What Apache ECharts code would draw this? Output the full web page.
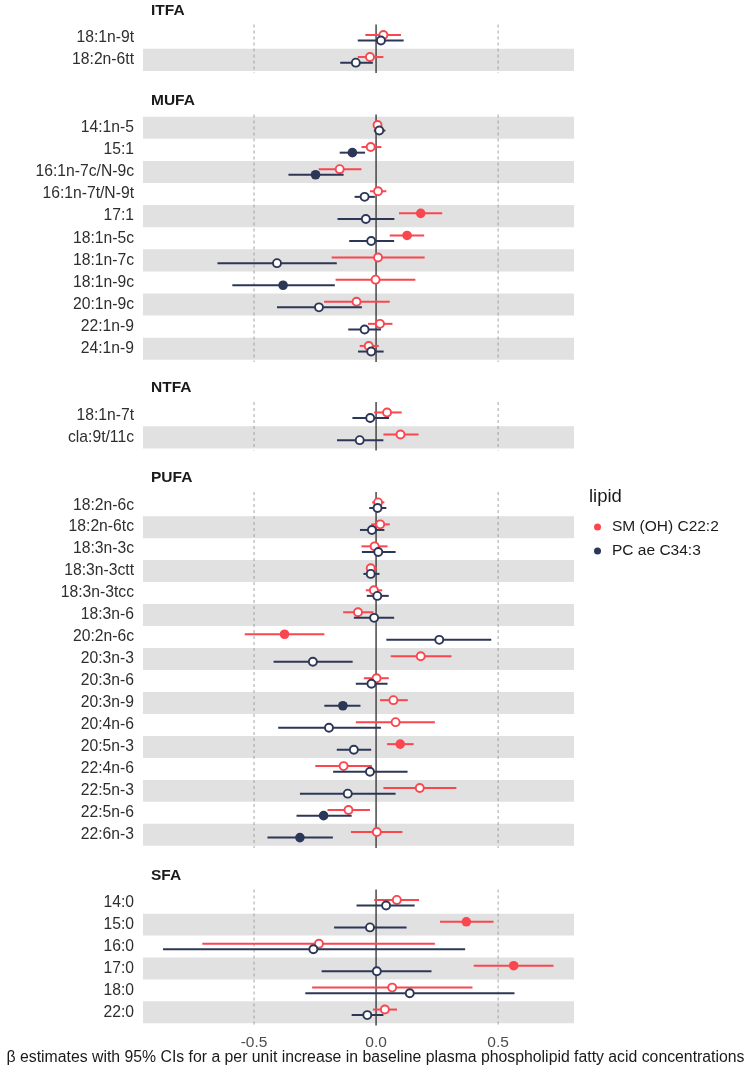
<!DOCTYPE html>
<html><head><meta charset="utf-8">
<script src="https://cdn.jsdelivr.net/npm/echarts@6/dist/echarts.min.js"></script>
<style>html,body{margin:0;padding:0;background:#fff}#c{width:751px;height:1072px}</style>
</head><body><div id="c"></div>
<script>
// ---------- DATA ----------
const seriesNames = ['SM (OH) C22:2', 'PC ae C34:3'];
const facetNames = ['ITFA', 'MUFA', 'NTFA', 'PUFA', 'SFA'];
const xTicks = [-0.5, 0, 0.5];
const xTitle = 'β estimates with 95% CIs for a per unit increase in baseline plasma phospholipid fatty acid concentrations';
const legendTitle = 'lipid';

// rows listed top to bottom; each value: [estimate, lower CI, upper CI, filled(1)/hollow(0)]
const itfaCats = ['18:1n-9t', '18:2n-6tt'];
const itfaSM = [[0.030, -0.044, 0.102, 0], [-0.025, -0.075, 0.030, 0]];
const itfaPC = [[0.020, -0.075, 0.113, 0], [-0.083, -0.147, -0.013, 0]];

const mufaCats = ['14:1n-5', '15:1', '16:1n-7c/N-9c', '16:1n-7t/N-9t', '17:1', '18:1n-5c', '18:1n-7c', '18:1n-9c', '20:1n-9c', '22:1n-9', '24:1n-9'];
const mufaSM = [[0.006, -0.008, 0.022, 0], [-0.022, -0.060, 0.022, 0], [-0.149, -0.235, -0.060, 0], [0.008, -0.025, 0.042, 0],
  [0.183, 0.094, 0.271, 1], [0.127, 0.056, 0.197, 1], [0.008, -0.182, 0.199, 0], [-0.002, -0.166, 0.161, 0],
  [-0.080, -0.213, 0.056, 0], [0.016, -0.033, 0.067, 0], [-0.030, -0.067, 0.011, 0]];
const mufaPC = [[0.013, -0.009, 0.038, 0], [-0.097, -0.149, -0.045, 1], [-0.248, -0.359, -0.133, 1], [-0.047, -0.088, -0.005, 0],
  [-0.042, -0.158, 0.075, 0], [-0.020, -0.110, 0.074, 0], [-0.406, -0.650, -0.161, 0], [-0.381, -0.589, -0.169, 1],
  [-0.234, -0.406, -0.058, 0], [-0.047, -0.114, 0.020, 0], [-0.020, -0.074, 0.031, 0]];

const ntfaCats = ['18:1n-7t', 'cla:9t/11c'];
const ntfaSM = [[0.045, -0.008, 0.105, 0], [0.100, 0.030, 0.174, 0]];
const ntfaPC = [[-0.024, -0.097, 0.053, 0], [-0.067, -0.160, 0.030, 0]];

const pufaCats = ['18:2n-6c', '18:2n-6tc', '18:3n-3c', '18:3n-3ctt', '18:3n-3tcc', '18:3n-6', '20:2n-6c', '20:3n-3',
  '20:3n-6', '20:3n-9', '20:4n-6', '20:5n-3', '22:4n-6', '22:5n-3', '22:5n-6', '22:6n-3'];
const pufaSM = [[0.008, -0.016, 0.034, 0], [0.017, -0.020, 0.056, 0], [-0.006, -0.060, 0.047, 0], [-0.022, -0.039, 0.003, 0],
  [-0.009, -0.042, 0.025, 0], [-0.074, -0.135, -0.011, 0], [-0.375, -0.538, -0.212, 1], [0.183, 0.060, 0.309, 0],
  [0.002, -0.050, 0.052, 0], [0.071, 0.016, 0.130, 0], [0.080, -0.083, 0.241, 0], [0.099, 0.045, 0.154, 1],
  [-0.133, -0.249, -0.017, 0], [0.179, 0.030, 0.329, 0], [-0.113, -0.199, -0.025, 0], [0.003, -0.103, 0.108, 0]];
const pufaPC = [[0.006, -0.028, 0.042, 0], [-0.017, -0.066, 0.034, 0], [0.009, -0.058, 0.080, 0], [-0.022, -0.052, 0.014, 0],
  [0.005, -0.038, 0.052, 0], [-0.008, -0.091, 0.074, 0], [0.259, 0.042, 0.472, 0], [-0.259, -0.420, -0.096, 0],
  [-0.019, -0.083, 0.047, 0], [-0.136, -0.212, -0.064, 1], [-0.193, -0.401, 0.020, 0], [-0.091, -0.161, -0.020, 0],
  [-0.025, -0.176, 0.129, 0], [-0.116, -0.312, 0.080, 0], [-0.215, -0.326, -0.100, 1], [-0.312, -0.445, -0.177, 1]];

const sfaCats = ['14:0', '15:0', '16:0', '17:0', '18:0', '22:0'];
const sfaSM = [[0.085, -0.008, 0.176, 0], [0.370, 0.262, 0.481, 1], [-0.234, -0.712, 0.241, 0], [0.564, 0.400, 0.727, 1],
  [0.066, -0.262, 0.395, 0], [0.036, -0.013, 0.086, 0]];
const sfaPC = [[0.041, -0.080, 0.158, 0], [-0.025, -0.172, 0.125, 0], [-0.257, -0.873, 0.365, 0], [0.003, -0.223, 0.227, 0],
  [0.138, -0.290, 0.567, 0], [-0.036, -0.100, 0.030, 0]];

// ---------- STYLE / LAYOUT ----------
const xMin = -0.955, xMax = 0.811;
const FONT = '"Liberation Sans", Arial, Helvetica, sans-serif';
const colors = ['#F9464F', '#2C3757'];
const panelLeft = 143, panelRight = 177;
const layout = [{ top: 24.5, h: 48.6 }, { top: 114.5, h: 247.5 }, { top: 402, h: 48.6 }, { top: 492, h: 356 }, { top: 889.5, h: 136 }];
const facets = [[itfaCats, itfaSM, itfaPC], [mufaCats, mufaSM, mufaPC], [ntfaCats, ntfaSM, ntfaPC], [pufaCats, pufaSM, pufaPC], [sfaCats, sfaSM, sfaPC]];

const grid = [], xAxis = [], yAxis = [], series = [], graphic = [];
facets.forEach((fc, f) => {
  const cats = fc[0];
  const n = cats.length;
  const L = layout[f];
  grid.push({ left: panelLeft, right: panelRight, top: L.top, height: L.h, containLabel: false });
  xAxis.push({
    gridIndex: f, type: 'value', min: xMin, max: xMax,
    axisLine: { show: false }, axisTick: { show: false }, splitLine: { show: false },
    axisLabel: { show: f === facets.length - 1, customValues: xTicks, formatter: v => (Math.abs(v) < 1e-9 ? 0 : v).toFixed(1),
      color: '#4D4D4D', fontSize: 15.5, fontFamily: FONT, margin: 9 }
  });
  yAxis.push({
    gridIndex: f, type: 'value', min: -0.6, max: n - 0.4, inverse: true,
    axisLine: { show: false }, axisTick: { show: false }, splitLine: { show: false },
    axisLabel: { customValues: cats.map((c, i) => i), formatter: v => cats[Math.round(v)] || '',
      color: '#2E2E2E', fontSize: 15.7, fontFamily: FONT, margin: 9 }
  });
  // alternating bands (counted from bottom)
  const bands = [];
  for (let i = 0; i < n; i++) if ((n - 1 - i) % 2 === 0) bands.push([xMin, i]);
  series.push({
    type: 'custom', xAxisIndex: f, yAxisIndex: f, z: 1, silent: true, data: bands,
    renderItem: (p, api) => {
      const i = api.value(1);
      const a = api.coord([xMin, i - 0.5]), b = api.coord([xMax, i + 0.5]);
      return { type: 'rect', shape: { x: a[0], y: Math.min(a[1], b[1]), width: b[0] - a[0], height: Math.abs(b[1] - a[1]) }, style: { fill: '#E1E1E1' } };
    }
  });
  // reference lines
  series.push({
    type: 'custom', xAxisIndex: f, yAxisIndex: f, z: 2, silent: true, data: xTicks.map(v => [v, 0]),
    renderItem: (p, api) => {
      const v = api.value(0);
      const a = api.coord([v, -0.6]), b = api.coord([v, n - 0.4]);
      const zero = Math.abs(v) < 1e-9;
      return { type: 'line', shape: { x1: a[0], y1: a[1], x2: b[0], y2: b[1] },
        style: zero ? { stroke: '#3A3A3A', lineWidth: 1.4 } : { stroke: '#9A9A9A', lineWidth: 0.9, lineDash: [3, 3] } };
    }
  });
  // estimates with CIs
  [fc[1], fc[2]].forEach((vals, k) => {
    series.push({
      name: seriesNames[k], type: 'custom', xAxisIndex: f, yAxisIndex: f, z: 3 + k, silent: true,
      itemStyle: { color: colors[k] },
      encode: { x: [0, 1, 2], y: 3 },
      data: vals.map((r, i) => [r[1], r[2], r[0], i, r[3]]),
      renderItem: (p, api) => {
        const yi = api.value(3);
        const lo = api.coord([api.value(0), yi]), hi = api.coord([api.value(1), yi]), est = api.coord([api.value(2), yi]);
        const unit = api.size([0, 1])[1];
        const dy = (k === 0 ? -1 : 1) * 0.127 * unit;
        const filled = api.value(4) === 1;
        return { type: 'group', children: [
          { type: 'line', shape: { x1: lo[0], y1: lo[1] + dy, x2: hi[0], y2: hi[1] + dy }, style: { stroke: colors[k], lineWidth: 2 } },
          { type: 'circle', shape: { cx: est[0], cy: est[1] + dy, r: filled ? 4.8 : 4.0 },
            style: filled ? { fill: colors[k] } : { fill: '#FFFFFF', stroke: colors[k], lineWidth: 1.9 } }
        ] };
      }
    });
  });
  graphic.push({ type: 'text', x: 151, y: L.top - 14, silent: true,
    style: { text: facetNames[f], font: 'bold 15.5px ' + FONT, fill: '#1A1A1A', textVerticalAlign: 'middle' } });
});

graphic.push({ type: 'text', x: 375.5, y: 1058, silent: true,
  style: { text: xTitle, font: '15.8px ' + FONT, fill: '#1A1A1A', textAlign: 'center', textVerticalAlign: 'middle' } });
graphic.push({ type: 'text', x: 589, y: 497, silent: true,
  style: { text: legendTitle, font: '18.5px ' + FONT, fill: '#1A1A1A', textVerticalAlign: 'middle' } });

const option = {
  animation: false,
  backgroundColor: '#FFFFFF',
  textStyle: { fontFamily: FONT },
  grid, xAxis, yAxis, series, graphic,
  legend: {
    data: seriesNames, orient: 'vertical', left: 589, top: 514, icon: 'circle',
    itemWidth: 7, itemHeight: 7, itemGap: 8, selectedMode: false,
    textStyle: { fontSize: 15.5, color: '#1A1A1A', fontFamily: FONT, padding: [0, 0, 0, 6] }
  }
};
const chart = echarts.init(document.getElementById('c'));
chart.setOption(option);
</script></body></html>
